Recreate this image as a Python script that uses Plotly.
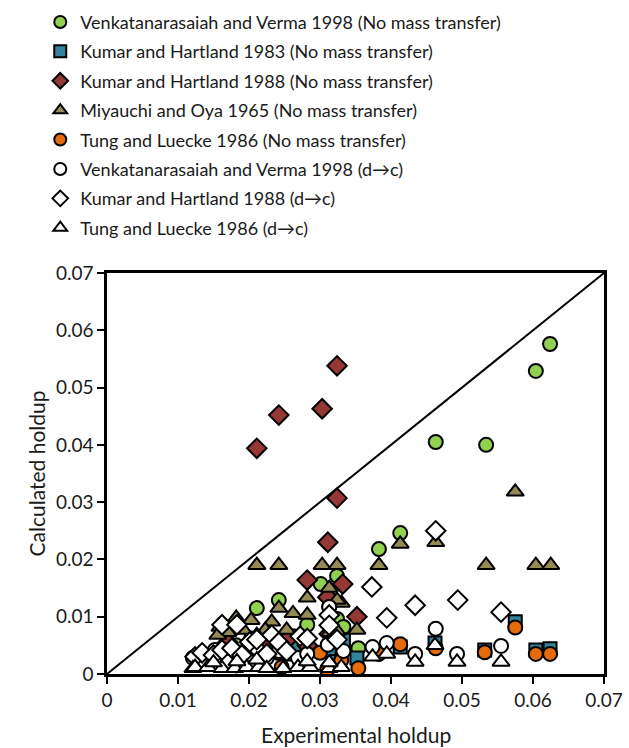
import plotly.graph_objects as go

# ---------------- data ----------------
vv_nomt_x = [0.0624, 0.0604, 0.0463, 0.0534, 0.0413, 0.0383, 0.0354, 0.0324, 0.0301, 0.0242,
             0.0211, 0.0324, 0.0333, 0.0282, 0.0313, 0.0224, 0.0253, 0.0182, 0.0203, 0.0270, 0.0262]
vv_nomt_y = [0.0576, 0.0529, 0.0405, 0.0400, 0.0246, 0.0218, 0.0045, 0.0171, 0.0157, 0.0129,
             0.0115, 0.0096, 0.0082, 0.0086, 0.0118, 0.0060, 0.0055, 0.0050, 0.0062, 0.0050, 0.0066]

kh83_x = [0.0575, 0.0532, 0.0604, 0.0624, 0.0462, 0.0413, 0.0352, 0.0333, 0.0267, 0.0282,
          0.0224, 0.0313, 0.0324, 0.0253, 0.0211, 0.0182]
kh83_y = [0.0091, 0.0042, 0.0042, 0.0044, 0.0054, 0.0047, 0.0028, 0.0059, 0.0045, 0.0044,
          0.0054, 0.0040, 0.0022, 0.0035, 0.0030, 0.0025]

kh88_x = [0.0324, 0.0303, 0.0242, 0.0211, 0.0324, 0.0311, 0.0282, 0.0332, 0.0311, 0.0352,
          0.0224, 0.0253, 0.0170, 0.0203, 0.0282, 0.0313]
kh88_y = [0.0538, 0.0463, 0.0452, 0.0394, 0.0307, 0.0230, 0.0164, 0.0157, 0.0134, 0.0100,
          0.0059, 0.0059, 0.0055, 0.0050, 0.0050, 0.0070]

mo_x = [0.0575, 0.0534, 0.0604, 0.0625, 0.0463, 0.0413, 0.0383, 0.0352, 0.0330, 0.0211,
        0.0242, 0.0303, 0.0324, 0.0282, 0.0313, 0.0324, 0.0242, 0.0182, 0.0203, 0.0232,
        0.0262, 0.0282, 0.0313, 0.0159, 0.0170, 0.0192, 0.0223, 0.0253, 0.0156, 0.0211,
        0.0314, 0.0324]
mo_y = [0.0318, 0.0190, 0.0190, 0.0190, 0.0230, 0.0227, 0.0190, 0.0077, 0.0124, 0.0190,
        0.0190, 0.0190, 0.0190, 0.0133, 0.0150, 0.0129, 0.0115, 0.0098, 0.0094, 0.0091,
        0.0106, 0.0103, 0.0089, 0.0082, 0.0073, 0.0077, 0.0077, 0.0077, 0.0068, 0.0068,
        0.0073, 0.0075]

tl_nomt_x = [0.0575, 0.0532, 0.0604, 0.0624, 0.0413, 0.0383, 0.0354, 0.0463, 0.0241, 0.0300,
             0.0310, 0.0330, 0.0246, 0.0211, 0.0272, 0.0182]
tl_nomt_y = [0.0081, 0.0038, 0.0035, 0.0035, 0.0052, 0.0035, 0.0010, 0.0045, 0.0037, 0.0037,
             0.0007, 0.0024, 0.0012, 0.0038, 0.0020, 0.0015]

vv_dc_x = [0.0555, 0.0463, 0.0493, 0.0434, 0.0394, 0.0374, 0.0313, 0.0311, 0.0121, 0.0152,
           0.0163, 0.0183, 0.0197, 0.0225, 0.0269, 0.0282, 0.0211, 0.0242, 0.0170, 0.0134, 0.0333]
vv_dc_y = [0.0049, 0.0079, 0.0035, 0.0035, 0.0054, 0.0047, 0.0117, 0.0051, 0.0028, 0.0042,
           0.0030, 0.0033, 0.0028, 0.0028, 0.0028, 0.0035, 0.0045, 0.0040, 0.0022, 0.0018, 0.0040]

kh88_dc_x = [0.0463, 0.0373, 0.0394, 0.0434, 0.0494, 0.0555, 0.0313, 0.0313, 0.0272, 0.0232,
             0.0162, 0.0183, 0.0201, 0.0124, 0.0134, 0.0150, 0.0162, 0.0176, 0.0190, 0.0211,
             0.0242, 0.0253, 0.0282, 0.0225, 0.0324]
kh88_dc_y = [0.0250, 0.0152, 0.0098, 0.0120, 0.0129, 0.0108, 0.0103, 0.0085, 0.0066, 0.0068,
             0.0086, 0.0086, 0.0056, 0.0030, 0.0037, 0.0033, 0.0042, 0.0045, 0.0033, 0.0060,
             0.0055, 0.0040, 0.0062, 0.0035, 0.0060]

tl_dc_x = [0.0555, 0.0493, 0.0434, 0.0462, 0.0394, 0.0374, 0.0121, 0.0124, 0.0142, 0.0162,
           0.0180, 0.0197, 0.0214, 0.0225, 0.0248, 0.0269, 0.0286, 0.0313, 0.0330, 0.0313,
           0.0282, 0.0150, 0.0183, 0.0211]
tl_dc_y = [0.0021, 0.0021, 0.0021, 0.0050, 0.0035, 0.0030, 0.0010, 0.0012, 0.0012, 0.0010,
           0.0010, 0.0012, 0.0012, 0.0010, 0.0010, 0.0012, 0.0012, 0.0010, 0.0012, 0.0020,
           0.0022, 0.0020, 0.0022, 0.0025]

diag = [0, 0.07]
tick_vals = [0, 0.01, 0.02, 0.03, 0.04, 0.05, 0.06, 0.07]
tick_text = ["0", "0.01", "0.02", "0.03", "0.04", "0.05", "0.06", "0.07"]
x_title = "Experimental holdup"
y_title = "Calculated holdup"

series = [
    ("Venkatanarasaiah and Verma 1998 (No mass transfer)", vv_nomt_x, vv_nomt_y, "circle", "#92D050", 14),
    ("Kumar and Hartland 1983 (No mass transfer)", kh83_x, kh83_y, "square", "#31849B", 13),
    ("Kumar and Hartland 1988 (No mass transfer)", kh88_x, kh88_y, "diamond", "#953735", 15),
    ("Miyauchi and Oya 1965 (No mass transfer)", mo_x, mo_y, "triangle-up", "#948A54", 15),
    ("Tung and Luecke 1986 (No mass transfer)", tl_nomt_x, tl_nomt_y, "circle", "#E46C0A", 14),
    ("Venkatanarasaiah and Verma 1998 (d\u2192c)", vv_dc_x, vv_dc_y, "circle", "#FFFFFF", 14),
    ("Kumar and Hartland 1988 (d\u2192c)", kh88_dc_x, kh88_dc_y, "diamond", "#FFFFFF", 15),
    ("Tung and Luecke 1986 (d\u2192c)", tl_dc_x, tl_dc_y, "triangle-up", "#FFFFFF", 15),
]

FONT = "Lato"
TXT = "#1a1a1a"

fig = go.Figure()
fig.add_trace(go.Scatter(x=diag, y=diag, mode="lines", line=dict(color="black", width=2),
                         showlegend=False, hoverinfo="skip"))
for name, xs, ys, sym, col, sz in series:
    fig.add_trace(go.Scatter(
        x=xs, y=ys, mode="markers", name=name, legendgroup=name,
        marker=dict(symbol=sym, color=col, size=sz, line=dict(color="black", width=2)),
    ))

axis_common = dict(
    range=[0, 0.07], tickvals=tick_vals, ticktext=tick_text,
    showgrid=False, zeroline=False, showline=True, linecolor="black", linewidth=2.5,
    mirror=True, ticks="outside", ticklen=7, tickwidth=2, tickcolor="black",
    tickfont=dict(family=FONT, size=19, color=TXT),
)

fig.update_layout(
    width=629, height=748,
    margin=dict(l=107, r=25, t=273, b=74, autoexpand=False),
    paper_bgcolor="white", plot_bgcolor="white",
    font=dict(family=FONT, color=TXT),
    xaxis=dict(**axis_common),
    yaxis=dict(**axis_common),
    legend=dict(
        x=0.064, y=0.995, xref="container", yref="container", xanchor="left", yanchor="top",
        font=dict(family=FONT, size=18, color=TXT),
        itemsizing="constant", tracegroupgap=3, bgcolor="rgba(0,0,0,0)",
    ),
    showlegend=True,
    annotations=[
        dict(text=x_title, xref="paper", yref="paper", x=0.5, y=-0.152, yanchor="middle",
             showarrow=False, font=dict(family=FONT, size=21, color=TXT)),
        dict(text=y_title, xref="paper", yref="paper", x=-0.141, y=0.5, xanchor="center",
             yanchor="middle", textangle=-90, showarrow=False,
             font=dict(family=FONT, size=21, color=TXT)),
    ],
)

fig.write_html("out.html")
